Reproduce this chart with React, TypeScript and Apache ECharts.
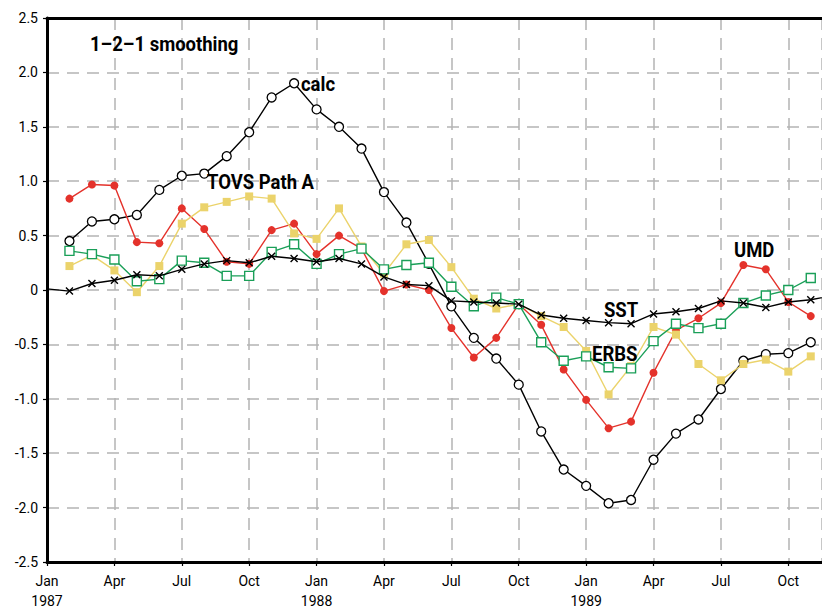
import React, { useEffect, useRef } from "react";
import * as echarts from "echarts";

const tickLabels = ["Jan\n1987", "Apr", "Jul", "Oct", "Jan\n1988", "Apr", "Jul", "Oct", "Jan\n1989", "Apr", "Jul", "Oct"];

// monthly values, index 0 = Jan 1987
const calc = [null, 0.45, 0.63, 0.65, 0.69, 0.92, 1.05, 1.07, 1.23, 1.45, 1.77, 1.90, 1.66, 1.50, 1.30, 0.90, 0.62, 0.24, -0.15, -0.44, -0.63, -0.87, -1.30, -1.65, -1.80, -1.96, -1.93, -1.56, -1.32, -1.19, -0.91, -0.65, -0.59, -0.58, -0.48];
const umd = [null, 0.84, 0.97, 0.96, 0.44, 0.43, 0.75, 0.56, 0.26, 0.24, 0.55, 0.61, 0.33, 0.50, 0.38, -0.01, 0.05, 0.00, -0.35, -0.62, -0.44, -0.13, -0.32, -0.73, -1.01, -1.27, -1.21, -0.76, -0.37, -0.26, -0.12, 0.23, 0.19, -0.11, -0.24];
const tovs = [null, 0.22, 0.32, 0.18, -0.02, 0.22, 0.61, 0.76, 0.81, 0.86, 0.84, 0.52, 0.47, 0.75, 0.40, 0.15, 0.42, 0.46, 0.21, -0.08, -0.17, -0.13, -0.24, -0.34, -0.56, -0.96, -0.70, -0.34, -0.41, -0.68, -0.83, -0.68, -0.64, -0.75, -0.61];
const erbs = [null, 0.36, 0.33, 0.28, 0.08, 0.10, 0.27, 0.25, 0.13, 0.13, 0.35, 0.42, 0.24, 0.33, 0.38, 0.19, 0.23, 0.25, 0.03, -0.15, -0.07, -0.13, -0.48, -0.65, -0.61, -0.71, -0.72, -0.47, -0.31, -0.35, -0.31, -0.12, -0.05, 0.00, 0.11];
const sst = [0.01, -0.01, 0.06, 0.09, 0.14, 0.13, 0.19, 0.24, 0.27, 0.25, 0.31, 0.29, 0.26, 0.29, 0.24, 0.12, 0.05, 0.04, -0.10, -0.11, -0.12, -0.13, -0.23, -0.26, -0.28, -0.30, -0.31, -0.22, -0.20, -0.17, -0.10, -0.12, -0.16, -0.11, -0.09, -0.05];

const FONT = "Roboto, 'Liberation Sans', sans-serif";

const toPairs = (arr: (number | null)[]) =>
  arr.map((v, i) => (v === null ? null : [i, v])).filter((p) => p !== null);

const label = (text: string, x: number, y: number) => ({
  type: "text",
  x,
  y,
  scaleX: 0.88,
  z: 100,
  style: { text, font: `bold 21px ${FONT}`, fill: "#000", align: "left", verticalAlign: "middle" },
});

export default function App() {
  const ref = useRef<HTMLDivElement>(null);
  useEffect(() => {
    if (!ref.current) return;
    const chart = echarts.init(ref.current, null, { renderer: "svg" });
    const grid = { left: 47, right: -2, top: 18, bottom: 43 };
    const splitLine = { show: true, lineStyle: { color: "#b4b4b4", width: 1.5, type: [12, 8] as any } };
    const labelStyle = { fontFamily: FONT, fontSize: 14, color: "#000" };
    const lineSeries = (name: string, data: any[], z: number, extra: any) => ({
      name,
      type: "line",
      data,
      z,
      clip: true,
      connectNulls: false,
      ...extra,
    });
    const sstData: any[] = toPairs(sst);
    sstData[0] = { value: sstData[0], symbol: "none" };
    chart.setOption({
      animation: false,
      backgroundColor: "#fff",
      grid,
      xAxis: [
        {
          type: "value",
          min: 0,
          max: 34.5,
          interval: 3,
          axisLine: { show: true, onZero: false, lineStyle: { color: "#000", width: 3 } },
          axisTick: { show: true, length: 4, lineStyle: { color: "#000", width: 1.2 } },
          axisLabel: {
            ...labelStyle,
            lineHeight: 20,
            margin: 9,
            showMaxLabel: false,
            formatter: (v: number) => {
              const k = Math.round(v / 3);
              return Math.abs(v - k * 3) < 1e-6 && tickLabels[k] !== undefined ? tickLabels[k] : "";
            },
          },
          splitLine,
        },
        {
          type: "value",
          position: "top",
          min: 0,
          max: 34.5,
          axisLine: { show: true, onZero: false, lineStyle: { color: "#000", width: 3 } },
          axisTick: { show: false },
          axisLabel: { show: false },
          splitLine: { show: false },
        },
      ],
      yAxis: {
        type: "value",
        min: -2.5,
        max: 2.5,
        interval: 0.5,
        axisLine: { show: true, onZero: false, lineStyle: { color: "#000", width: 3 } },
        axisTick: { show: true, length: 4, lineStyle: { color: "#000", width: 1.2 } },
        axisLabel: {
          ...labelStyle,
          margin: 9,
          formatter: (v: number) => (Math.abs(v) < 1e-9 ? "0" : v.toFixed(1)),
        },
        splitLine,
      },
      series: [
        lineSeries("calc", toPairs(calc), 2, {
          symbol: "circle",
          symbolSize: 9,
          lineStyle: { color: "#000", width: 1.4 },
          itemStyle: { color: "#fff", borderColor: "#000", borderWidth: 1.3 },
        }),
        lineSeries("UMD", toPairs(umd), 3, {
          symbol: "circle",
          symbolSize: 8,
          lineStyle: { color: "#e4322b", width: 1.4 },
          itemStyle: { color: "#e4322b", borderColor: "#e4322b", borderWidth: 0 },
        }),
        lineSeries("TOVS Path A", toPairs(tovs), 4, {
          symbol: "rect",
          symbolSize: 8,
          lineStyle: { color: "#ebd36b", width: 1.4 },
          itemStyle: { color: "#ebd36b", borderWidth: 0 },
        }),
        lineSeries("ERBS", toPairs(erbs), 5, {
          symbol: "rect",
          symbolSize: 9,
          lineStyle: { color: "#1a9f58", width: 1.4 },
          itemStyle: { color: "#fff", borderColor: "#1a9f58", borderWidth: 1.4 },
        }),
        lineSeries("SST", sstData, 6, {
          symbol: "path://M0,0L10,10M10,0L0,10",
          symbolSize: 7,
          lineStyle: { color: "#000", width: 1.4 },
          itemStyle: { color: "#000", borderColor: "#000", borderWidth: 1.4 },
        }),
      ],
      graphic: [
        label("1–2–1 smoothing", 90, 44),
        label("calc", 301, 84),
        label("TOVS Path A", 207, 182),
        label("SST", 604, 310),
        label("ERBS", 592, 354),
        label("UMD", 734, 250),
      ],
    });
    return () => chart.dispose();
  }, []);
  return <div ref={ref} style={{ position: "absolute", left: 0, top: 0, width: 822, height: 611 }} />;
}
